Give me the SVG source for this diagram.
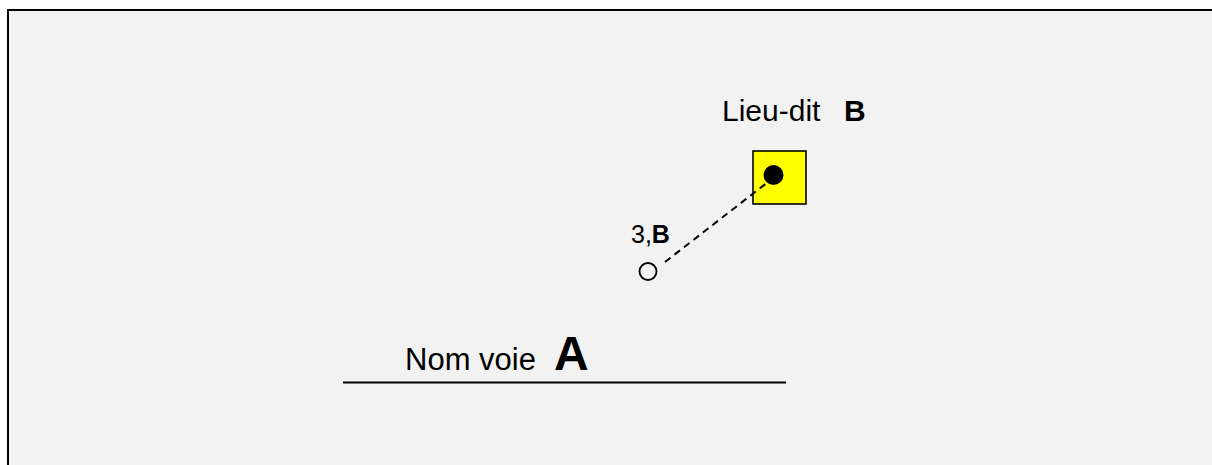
<svg xmlns="http://www.w3.org/2000/svg" width="1212" height="465" viewBox="0 0 1212 465">
<style>
text{font-family:"Liberation Sans",Arial,sans-serif;fill:#000}
.b{font-weight:bold}
</style>
<rect x="0" y="0" width="1212" height="465" fill="#fff"/>
<rect x="8" y="10" width="1220" height="470" fill="#f2f2f2" stroke="#000" stroke-width="2"/>
<g id="lieu-dit">
<rect x="753" y="151" width="53" height="53" fill="#ffff00" stroke="#000" stroke-width="1.6"/>
<circle cx="773.5" cy="175" r="10" fill="#000"/>
<text x="722" y="121" font-size="30">Lieu-dit</text>
<text x="844" y="121" font-size="30" class="b">B</text>
</g>
<g id="point">
<circle cx="648" cy="271.5" r="8.5" fill="none" stroke="#000" stroke-width="1.8"/>
<text x="631" y="243" font-size="25">3,<tspan class="b">B</tspan></text>
</g>
<g id="voie">
<line x1="343" y1="382.5" x2="786" y2="382.5" stroke="#000" stroke-width="2"/>
<text x="405" y="370" font-size="31">Nom voie</text>
<text x="554" y="370" font-size="48" class="b">A</text>
</g>
<g id="connectors">
<line x1="665" y1="262" x2="768" y2="182" stroke="#000" stroke-width="2" stroke-dasharray="7,5"/>
</g>
</svg>
